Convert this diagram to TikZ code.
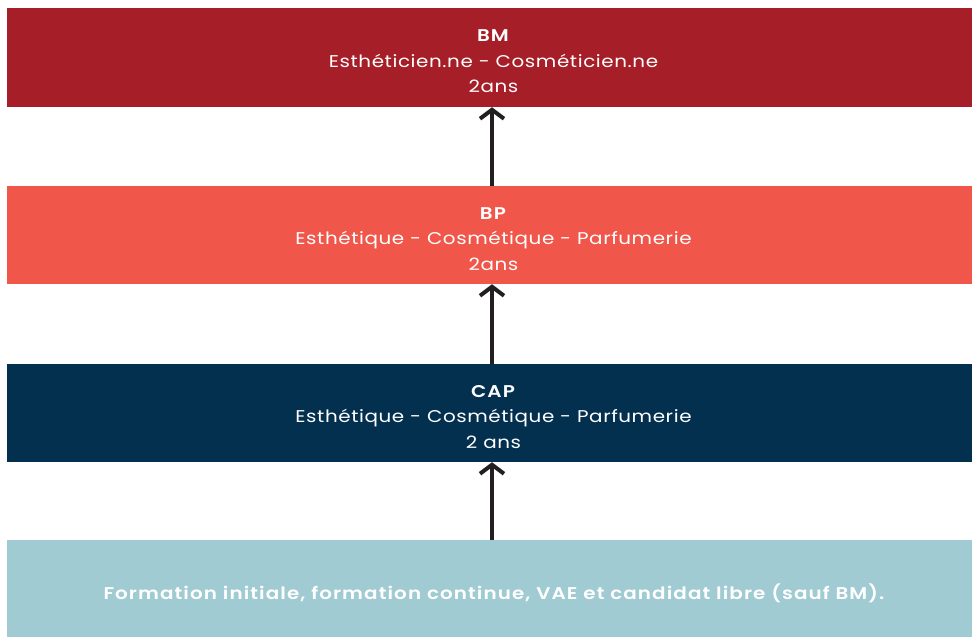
\documentclass[tikz,border=0pt]{standalone}
\usepackage{fontspec}
\setmainfont{Poppins}[FakeStretch=1.17,LetterSpace=3.5,
  BoldFont={Poppins SemiBold},BoldFeatures={LetterSpace=6.5}]
\usetikzlibrary{arrows.meta}

\definecolor{bmred}{HTML}{A61E28}
\definecolor{bpred}{HTML}{F0574A}
\definecolor{capblue}{HTML}{03304F}
\definecolor{baseblue}{HTML}{A1CBD3}
\definecolor{arrowgray}{HTML}{231F20}

\tikzset{
  level/.style={rectangle, minimum width=965pt, inner sep=0pt},
  leveltext/.style={text=white, align=center, inner sep=0pt,
    font=\fontsize{17}{25.5}\selectfont},
  up/.style={draw=arrowgray, line width=4pt,
    -{Straight Barb[length=9pt,width=24pt,line width=4pt]}}
}

\begin{document}
\begin{tikzpicture}[x=1pt,y=-1pt]
  \useasboundingbox (0,0) rectangle (972,637);

  \node[level, fill=bmred, minimum height=99pt] (bm) at (489.5,57.5) {};
  \node[level, fill=bpred, minimum height=98pt] (bp) at (489.5,235) {};
  \node[level, fill=capblue, minimum height=98pt] (cap) at (489.5,413) {};
  \node[level, fill=baseblue, minimum height=97pt] (base) at (489.5,588.5) {};

  \node[leveltext] (bmtext) at ([xshift=4pt,yshift=-4pt]bm.center)
    {\textbf{BM}\\Esthéticien.ne - Cosméticien.ne\\2ans};
  \node[leveltext] (bptext) at ([xshift=4pt,yshift=-4pt]bp.center)
    {\textbf{BP}\\Esthétique - Cosmétique - Parfumerie\\2ans};
  \node[leveltext] (captext) at ([xshift=4pt,yshift=-4pt]cap.center)
    {\textbf{CAP}\\Esthétique - Cosmétique - Parfumerie\\2 ans};
  \node[leveltext] (basetext) at ([xshift=5pt,yshift=-5pt]base.center)
    {\textbf{Formation initiale, formation continue, VAE et candidat libre (sauf BM).}};

  % arrows between levels
  \draw[up] (base.north -| 492,0) -- (cap.south -| 492,0);
  \draw[up] (cap.north -| 492,0) -- (bp.south -| 492,0);
  \draw[up] (bp.north -| 492,0) -- (bm.south -| 492,0);
\end{tikzpicture}
\end{document}
